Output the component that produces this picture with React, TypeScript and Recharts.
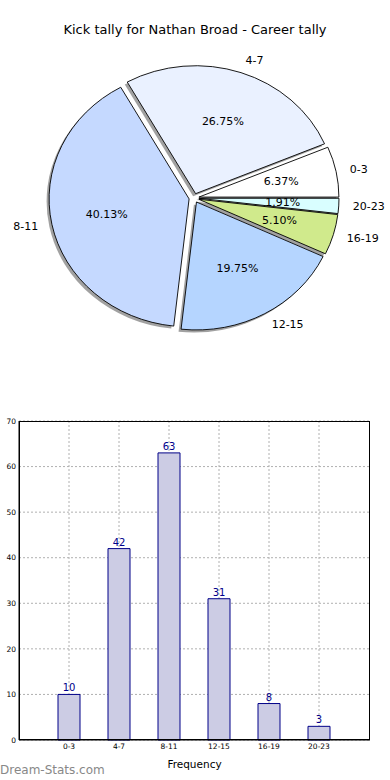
import {
  PieChart,
  Pie,
  Cell,
  BarChart,
  Bar,
  XAxis,
  YAxis,
  CartesianGrid,
  LabelList,
} from "recharts";

// Kick tally per range
const ranges = ["0-3", "4-7", "8-11", "12-15", "16-19", "20-23"];
const counts = [10, 42, 63, 31, 8, 3];
const sliceColors = ["#FFFFFF", "#EAF1FF", "#C5D9FF", "#B5D5FF", "#D0EA8C", "#D9FEFF"];
const yTicks = [0, 10, 20, 30, 40, 50, 60, 70];

const pieData = ranges.map((name, i) => ({ name, value: counts[i] }));
const barData = ranges.map((name, i) => ({ name, value: counts[i] }));

const FONT = "'DejaVu Sans', sans-serif";
const RAD = Math.PI / 180;
const KY = 0.914; // pie is slightly squashed vertically
const EXPLODE = 5;
const X_PAD = { left: 25, right: 26 };

function slicePath(cx: number, cy: number, r: number, a0: number, a1: number) {
  const s = Math.min(a0, a1);
  const e = Math.max(a0, a1);
  const m = ((s + e) / 2) * RAD;
  const ox = cx + EXPLODE * Math.cos(m);
  const oy = cy - EXPLODE * KY * Math.sin(m);
  const x0 = ox + r * Math.cos(s * RAD);
  const y0 = oy - r * KY * Math.sin(s * RAD);
  const x1 = ox + r * Math.cos(e * RAD);
  const y1 = oy - r * KY * Math.sin(e * RAD);
  const large = e - s > 180 ? 1 : 0;
  return `M${ox},${oy} L${x0},${y0} A${r},${r * KY} 0 ${large} 0 ${x1},${y1} Z`;
}

const SliceShape = (props: any) => {
  const { cx, cy, outerRadius, startAngle, endAngle, fill } = props;
  return (
    <path
      d={slicePath(cx, cy, outerRadius, startAngle, endAngle)}
      fill={fill}
      stroke="#000"
      strokeWidth={0.9}
      strokeLinejoin="round"
    />
  );
};

const ShadowShape = (props: any) => {
  const { cx, cy, outerRadius, startAngle, endAngle } = props;
  return (
    <path
      d={slicePath(cx - 2.5, cy + 2.5, outerRadius, startAngle, endAngle)}
      fill="#444"
      fillOpacity={0.5}
      stroke="none"
    />
  );
};

const renderPieLabel = (props: any) => {
  const { cx, cy, midAngle, outerRadius, index, percent } = props;
  const a = midAngle * RAD;
  const ox = cx + EXPLODE * Math.cos(a);
  const oy = cy - EXPLODE * KY * Math.sin(a);
  const lx = ox + outerRadius * 1.1 * Math.cos(a);
  const ly = oy - outerRadius * KY * 1.1 * Math.sin(a);
  const px = ox + outerRadius * 0.6 * Math.cos(a);
  const py = oy - outerRadius * KY * 0.6 * Math.sin(a);
  return (
    <g>
      <text
        x={lx}
        y={ly}
        textAnchor={Math.cos(a) >= 0 ? "start" : "end"}
        dominantBaseline="central"
        fontSize={11}
        fontFamily={FONT}
        fill="#000"
      >
        {ranges[index]}
      </text>
      <text
        x={px}
        y={py}
        textAnchor="middle"
        dominantBaseline="central"
        fontSize={11}
        fontFamily={FONT}
        fill="#000"
      >
        {(percent * 100).toFixed(2)}%
      </text>
    </g>
  );
};

// vertical grid lines through the category centres (like matplotlib)
const categoryCentres = (p: any) => {
  const o = p?.offset ?? { left: 19, width: 351 };
  const bw = (o.width - X_PAD.left - X_PAD.right) / ranges.length;
  return ranges.map((_, i) => o.left + X_PAD.left + bw * (i + 0.5));
};

export default function App() {
  return (
    <div
      style={{
        position: "absolute",
        left: 0,
        top: 0,
        width: 390,
        height: 780,
        background: "#fff",
        fontFamily: FONT,
        overflow: "hidden",
      }}
    >
      <div
        style={{
          position: "absolute",
          top: 22,
          left: 0,
          width: 390,
          textAlign: "center",
          fontSize: 13,
          lineHeight: "16px",
          color: "#000",
        }}
      >
        Kick tally for Nathan Broad - Career tally
      </div>

      <div style={{ position: "absolute", top: 0, left: 0 }}>
        <PieChart width={390} height={360} margin={{ top: 0, right: 0, bottom: 0, left: 0 }}>
          <Pie
            data={pieData}
            dataKey="value"
            nameKey="name"
            cx={194}
            cy={198}
            outerRadius={140}
            startAngle={0}
            endAngle={360}
            isAnimationActive={false}
            shape={ShadowShape}
            stroke="none"
          />
          <Pie
            data={pieData}
            dataKey="value"
            nameKey="name"
            cx={194}
            cy={198}
            outerRadius={140}
            startAngle={0}
            endAngle={360}
            isAnimationActive={false}
            shape={SliceShape}
            label={renderPieLabel}
            labelLine={false}
          >
            {pieData.map((d, i) => (
              <Cell key={d.name} fill={sliceColors[i]} />
            ))}
          </Pie>
        </PieChart>
      </div>

      <div style={{ position: "absolute", top: 400, left: 0 }}>
        <BarChart
          width={390}
          height={380}
          data={barData}
          margin={{ top: 21, right: 20, left: 0, bottom: 0 }}
        >
          <XAxis
            dataKey="name"
            padding={X_PAD}
            height={40}
            tickLine={false}
            tickSize={4}
            tickMargin={0}
            axisLine={{ stroke: "#000" }}
            tick={{ fontSize: 7.5, fill: "#000", fontFamily: FONT }}
            label={{
              value: "Frequency",
              position: "insideBottom",
              offset: 12,
              fontSize: 10.5,
              fill: "#000",
              fontFamily: FONT,
            }}
          />
          <YAxis
            width={19}
            domain={[0, 70]}
            ticks={yTicks}
            tickLine={false}
            tickSize={3}
            tickMargin={0}
            axisLine={{ stroke: "#000" }}
            tick={{ fontSize: 7.5, fill: "#000", fontFamily: FONT }}
          />
          <Bar
            dataKey="value"
            fill="#CCCCE4"
            stroke="#000088"
            strokeWidth={1}
            barSize={22}
            isAnimationActive={false}
          >
            <LabelList
              dataKey="value"
              position="top"
              offset={3}
              fill="#00008B"
              fontSize={10}
              fontFamily={FONT}
            />
          </Bar>
          <CartesianGrid
            stroke="#b0b0b0"
            strokeDasharray="2 2"
            verticalCoordinatesGenerator={categoryCentres}
          />
        </BarChart>
        {/* plot frame (top and right edges) */}
        <div
          style={{
            position: "absolute",
            left: 19,
            top: 21,
            width: 351,
            height: 319,
            boxSizing: "border-box",
            border: "1px solid #000",
            pointerEvents: "none",
          }}
        />
      </div>

      <div
        style={{
          position: "absolute",
          left: 0,
          top: 762,
          fontSize: 12,
          color: "#888",
          lineHeight: "16px",
        }}
      >
        Dream-Stats.com
      </div>
    </div>
  );
}
